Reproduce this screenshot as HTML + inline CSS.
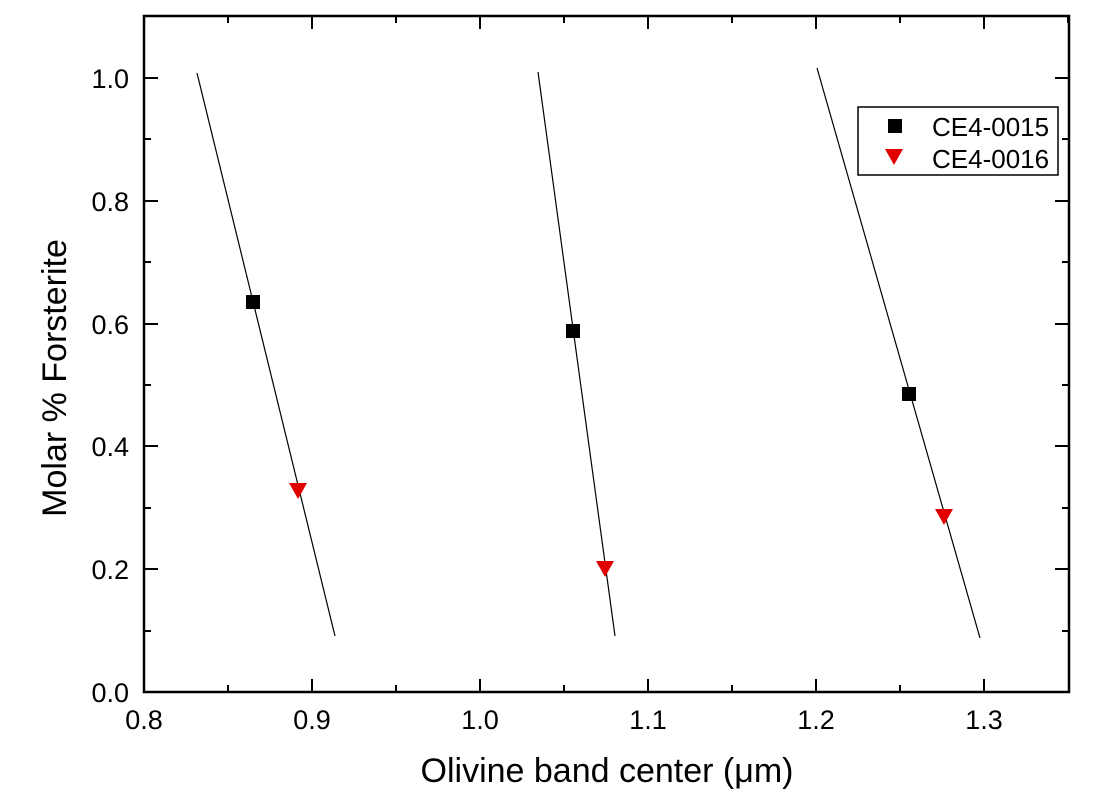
<!DOCTYPE html>
<html><head><style>body{margin:0;background:#fff}svg{display:block}</style></head><body>
<svg width="1111" height="803" xmlns="http://www.w3.org/2000/svg" font-family="Liberation Sans, Arial, sans-serif">
<rect x="144" y="16" width="925" height="676" fill="none" stroke="#000" stroke-width="2.5"/>
<g stroke="#000" stroke-width="2">
<line x1="144" y1="692" x2="144" y2="679"/><line x1="312" y1="692" x2="312" y2="679"/><line x1="480" y1="692" x2="480" y2="679"/><line x1="648" y1="692" x2="648" y2="679"/><line x1="816" y1="692" x2="816" y2="679"/><line x1="984" y1="692" x2="984" y2="679"/>
<line x1="312" y1="16" x2="312" y2="29"/><line x1="480" y1="16" x2="480" y2="29"/><line x1="648" y1="16" x2="648" y2="29"/><line x1="816" y1="16" x2="816" y2="29"/><line x1="984" y1="16" x2="984" y2="29"/>
<line x1="228" y1="692" x2="228" y2="685"/><line x1="396" y1="692" x2="396" y2="685"/><line x1="564" y1="692" x2="564" y2="685"/><line x1="732" y1="692" x2="732" y2="685"/><line x1="900" y1="692" x2="900" y2="685"/>
<line x1="228" y1="16" x2="228" y2="23"/><line x1="396" y1="16" x2="396" y2="23"/><line x1="564" y1="16" x2="564" y2="23"/><line x1="732" y1="16" x2="732" y2="23"/><line x1="900" y1="16" x2="900" y2="23"/><line x1="1068" y1="16" x2="1068" y2="23"/>
<line x1="144" y1="692" x2="158" y2="692"/><line x1="144" y1="569" x2="158" y2="569"/><line x1="144" y1="446" x2="158" y2="446"/><line x1="144" y1="324" x2="158" y2="324"/><line x1="144" y1="201" x2="158" y2="201"/><line x1="144" y1="78" x2="158" y2="78"/>
<line x1="1069" y1="569" x2="1055" y2="569"/><line x1="1069" y1="446" x2="1055" y2="446"/><line x1="1069" y1="324" x2="1055" y2="324"/><line x1="1069" y1="201" x2="1055" y2="201"/><line x1="1069" y1="78" x2="1055" y2="78"/>
<line x1="144" y1="631" x2="151" y2="631"/><line x1="144" y1="508" x2="151" y2="508"/><line x1="144" y1="385" x2="151" y2="385"/><line x1="144" y1="262" x2="151" y2="262"/><line x1="144" y1="139" x2="151" y2="139"/>
<line x1="1069" y1="631" x2="1062" y2="631"/><line x1="1069" y1="508" x2="1062" y2="508"/><line x1="1069" y1="385" x2="1062" y2="385"/><line x1="1069" y1="262" x2="1062" y2="262"/><line x1="1069" y1="139" x2="1062" y2="139"/>
</g>
<g font-size="27" fill="#000" text-anchor="middle">
<text x="144" y="729">0.8</text><text x="312" y="729">0.9</text><text x="480" y="729">1.0</text><text x="648" y="729">1.1</text><text x="816" y="729">1.2</text><text x="984" y="729">1.3</text>
</g>
<g font-size="27" fill="#000" text-anchor="end">
<text x="129" y="702">0.0</text><text x="129" y="579">0.2</text><text x="129" y="456">0.4</text><text x="129" y="334">0.6</text><text x="129" y="211">0.8</text><text x="129" y="88">1.0</text>
</g>
<text x="607" y="782" font-size="34" text-anchor="middle">Olivine band center (μm)</text>
<text transform="translate(66,378) rotate(-90)" font-size="34" text-anchor="middle">Molar % Forsterite</text>
<g stroke="#000" stroke-width="1.2">
<line x1="197" y1="73" x2="335" y2="636"/>
<line x1="538" y1="72" x2="615" y2="636"/>
<line x1="817" y1="68" x2="980" y2="638"/>
</g>
<g fill="#000">
<rect x="246" y="295" width="14" height="14"/><rect x="566" y="324" width="14" height="14"/><rect x="902" y="387" width="14" height="14"/>
</g>
<g fill="#e00000">
<polygon points="289,483 307,483 298,499"/><polygon points="596,561 614,561 605,577"/><polygon points="935,509 953,509 944,525"/>
</g>
<rect x="858" y="107" width="200" height="68" fill="#fff" stroke="#000" stroke-width="1.5"/>
<rect x="888" y="119" width="14" height="14" fill="#000"/>
<polygon points="885,149 903,149 894,165" fill="#e00000"/>
<text x="932" y="136" font-size="26">CE4-0015</text>
<text x="932" y="168" font-size="26">CE4-0016</text>
</svg>
</body></html>
